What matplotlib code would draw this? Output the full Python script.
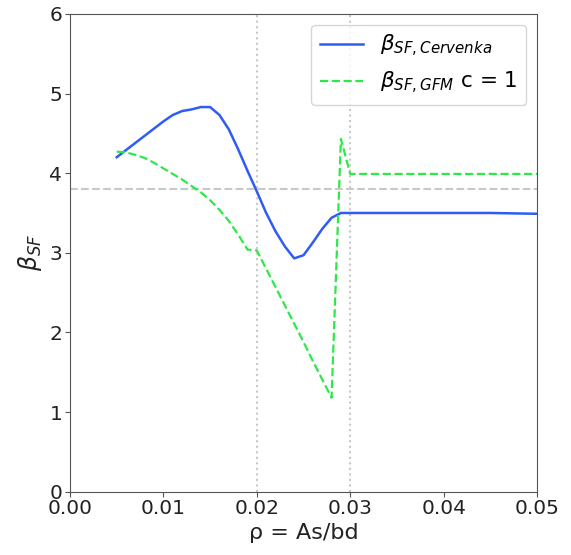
import matplotlib
matplotlib.use('Agg')
import matplotlib.pyplot as plt

# reinforcement ratio steps and safety factors
rho = [0.005, 0.006, 0.007, 0.008, 0.009, 0.010, 0.011, 0.012, 0.013, 0.014,
       0.015, 0.016, 0.017, 0.018, 0.019, 0.020, 0.021, 0.022, 0.023, 0.024,
       0.025, 0.026, 0.027, 0.028, 0.029, 0.030, 0.035, 0.040, 0.045, 0.050]

beta_cervenka = [4.20, 4.29, 4.38, 4.47, 4.56, 4.65, 4.73, 4.78, 4.80, 4.83,
                 4.83, 4.73, 4.55, 4.30, 4.03, 3.77, 3.50, 3.27, 3.08, 2.93,
                 2.97, 3.13, 3.30, 3.44, 3.50, 3.50, 3.50, 3.50, 3.50, 3.49]

beta_gfm = [4.27, 4.26, 4.23, 4.19, 4.13, 4.06, 3.99, 3.92, 3.84, 3.76,
            3.66, 3.54, 3.40, 3.23, 3.04, 3.03, 2.80, 2.57, 2.34, 2.11,
            1.88, 1.64, 1.41, 1.18, 4.43, 3.99, 3.99, 3.99, 3.99, 3.99]

beta_target = 3.8
rho_marks = [0.02, 0.03]

fig = plt.figure(figsize=(5.71, 5.55), dpi=100)
ax = fig.add_axes([0.1226, 0.114, 0.818, 0.861])

ax.plot(rho, beta_cervenka, color='#2f5cf5', linewidth=1.8, label=r'$\beta_{SF, Cervenka}$')
ax.plot(rho, beta_gfm, color='#2ee84a', linewidth=1.6, linestyle='--', label=r'$\beta_{SF, GFM}$ c = 1')

ax.axhline(beta_target, color='#c8c8c8', linestyle='--', linewidth=1.5, zorder=0)
for r in rho_marks:
    ax.axvline(r, color='#c8c8c8', linestyle=':', linewidth=1.5, zorder=0)

for s in ax.spines.values():
    s.set_color('#555555')

ax.set_xlim(0, 0.05)
ax.set_ylim(0, 6)
ax.set_xticks([0.00, 0.01, 0.02, 0.03, 0.04, 0.05])
ax.set_yticks([0, 1, 2, 3, 4, 5, 6])
ax.tick_params(labelsize=14.5, color='#555555', labelcolor='#222222', length=3.5, pad=2)
ax.set_xlabel('ρ = As/bd', fontsize=16, color='#222222', labelpad=3)
ax.set_ylabel(r'$\beta_{SF}$', fontsize=17, color='#222222')
ax.legend(loc='upper right', fontsize=15.5)

fig.savefig('out.png', dpi=100)
